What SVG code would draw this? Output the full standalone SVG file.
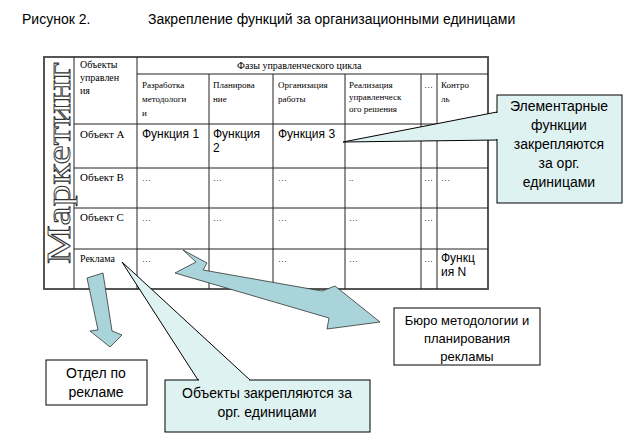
<svg xmlns="http://www.w3.org/2000/svg" width="638" height="447" viewBox="0 0 638 447">
<style>
.t{font-family:"Liberation Serif",serif;fill:#000}
.s{font-family:"Liberation Sans",Arial,sans-serif;fill:#000}
.g{stroke:#222;stroke-width:1;fill:none}
.gb{stroke:#555;stroke-width:2;fill:none}
.bx{fill:#fff;stroke:#000;stroke-width:1}
.cl{fill:#dff2f2;stroke:#000;stroke-width:1}
.ar{fill:#a9d5da;stroke:#333;stroke-width:0.8}
</style>
<rect width="638" height="447" fill="#fff"/>
<text class="s" x="22" y="24" font-size="14">Рисунок 2.</text>
<text class="s" x="148" y="24" font-size="14">Закрепление функций за организационными единицами</text>
<g id="table">
<rect x="44" y="57" width="444" height="232" class="gb"/>
<g class="g">
<line x1="74" y1="57" x2="74" y2="289"/>
<line x1="137" y1="57" x2="137" y2="289"/>
<line x1="137" y1="74" x2="488" y2="74"/>
<line x1="209" y1="74" x2="209" y2="289"/>
<line x1="273" y1="74" x2="273" y2="289"/>
<line x1="345" y1="74" x2="345" y2="289"/>
<line x1="421" y1="74" x2="421" y2="289"/>
<line x1="437" y1="74" x2="437" y2="289"/>
<line x1="74" y1="124" x2="488" y2="124"/>
<line x1="74" y1="168" x2="488" y2="168"/>
<line x1="74" y1="208" x2="488" y2="208"/>
<line x1="74" y1="249" x2="488" y2="249"/>
</g>
<text transform="translate(70,264) rotate(-90)" font-family="Liberation Serif,serif" font-size="33" textLength="202" lengthAdjust="spacingAndGlyphs" fill="#fff" stroke="#333" stroke-width="0.9">Маркетинг</text>
<g class="t" font-size="10">
<text x="80" y="68">Объекты</text><text x="80" y="81">управлен</text><text x="80" y="94">ия</text>
<text x="237" y="69">Фазы управленческого цикла</text>
</g>
<g class="t" font-size="9">
<text x="142" y="88">Разработка</text><text x="142" y="102">методологи</text><text x="142" y="116">и</text>
<text x="213" y="88">Планирова</text><text x="213" y="102">ние</text>
<text x="278" y="88">Организация</text><text x="278" y="102">работы</text>
<text x="349" y="88">Реализация</text><text x="349" y="100">управленческ</text><text x="349" y="112">ого решения</text>
<text x="424" y="88">…</text>
<text x="441" y="88">Контро</text><text x="441" y="102">ль</text>
</g>
<g class="t" font-size="11">
<text x="80" y="138">Объект А</text>
<text x="80" y="181">Объект В</text>
<text x="80" y="221">Объект С</text>
<text x="80" y="262" font-size="10">Реклама</text>
</g>
<g class="s" font-size="12">
<text x="142" y="138">Функция 1</text>
<text x="213" y="138">Функция</text><text x="213" y="152">2</text>
<text x="278" y="138">Функция 3</text>
<text x="441" y="262">Функц</text><text x="441" y="276">ия N</text>
</g>
<g class="t" font-size="9" fill="#555">
<text x="142" y="181">…</text><text x="213" y="181">…</text><text x="278" y="181">…</text><text x="349" y="181">..</text><text x="424" y="181">…</text><text x="441" y="181">…</text>
<text x="142" y="221">…</text><text x="213" y="221">…</text><text x="278" y="221">…</text><text x="349" y="221">…</text><text x="424" y="221">…</text>
<text x="142" y="262">…</text><text x="278" y="262">…</text><text x="349" y="262">…</text><text x="424" y="262">…</text>
<text x="424" y="141">…</text><text x="441" y="141">…</text>
</g>
</g>
<g id="connectors">
<polygon class="ar" points="183,250 207,263 203,270 322,291 335,286 380,322 327,329 329,318 175,273 196,262"/>
<polygon class="ar" points="87,278 103,273 112,331 122,335 110,347 90,331 98,330"/>
</g>
<g id="callout-functions">
<polygon class="cl" points="497,112 343,142 497,140"/>
<rect x="497" y="95" width="125" height="108" class="cl"/>
<line x1="497" y1="113" x2="497" y2="139" stroke="#dff2f2" stroke-width="2"/>
<g class="s" font-size="14" text-anchor="middle"><text x="559" y="111">Элементарные</text><text x="559" y="130">функции</text><text x="559" y="149">закрепляются</text><text x="559" y="168">за орг.</text><text x="559" y="187">единицами</text></g>
</g>
<g id="callout-objects">
<polygon class="cl" points="198,380 122,262 250,380"/>
<rect x="165" y="380" width="205" height="52" class="cl"/>
<line x1="199" y1="380" x2="249" y2="380" stroke="#dff2f2" stroke-width="2"/>
<g class="s" font-size="14" text-anchor="middle"><text x="267" y="398">Объекты закрепляются за</text><text x="267" y="417">орг. единицами</text></g>
</g>
<g id="node-otdel">
<rect x="46" y="360" width="101" height="45" class="bx"/>
<g class="s" font-size="14" text-anchor="middle"><text x="96" y="378">Отдел по</text><text x="96" y="397">рекламе</text></g>
</g>
<g id="node-buro">
<rect x="394" y="308" width="146" height="57" class="bx"/>
<g class="s" font-size="13" text-anchor="middle"><text x="467" y="325">Бюро методологии и</text><text x="467" y="343">планирования</text><text x="467" y="361">рекламы</text></g>
</g>
</svg>
